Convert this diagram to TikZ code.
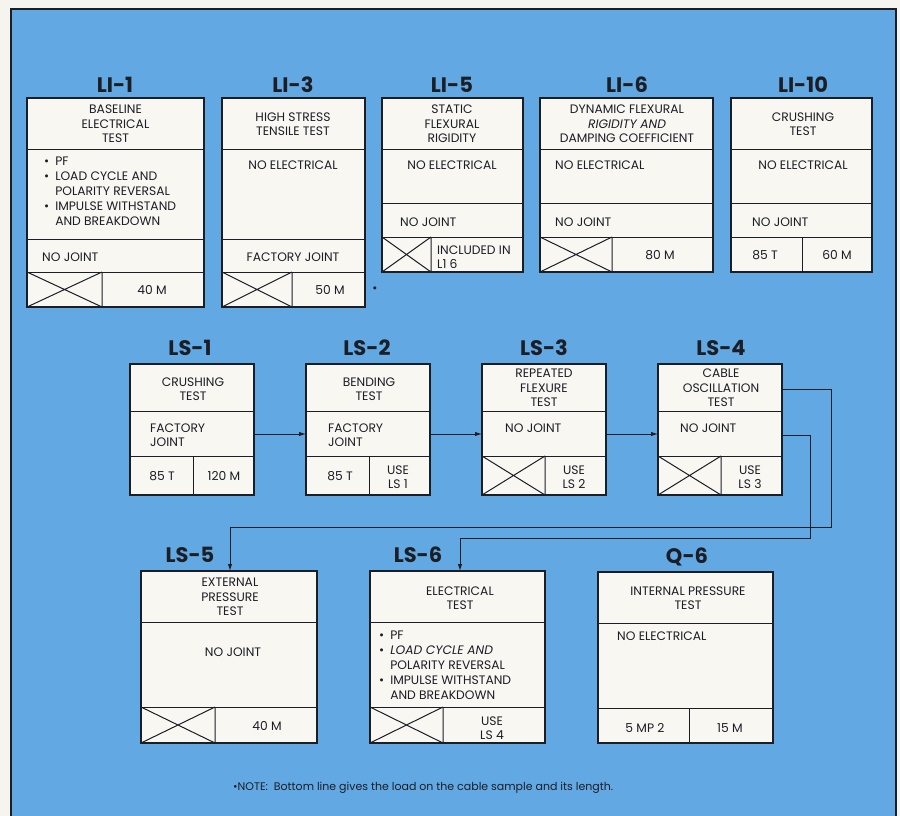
\documentclass[tikz,border=0pt]{standalone}
\usepackage{fontspec}
\setmainfont{Poppins}
\usetikzlibrary{positioning, arrows.meta}

\definecolor{paper}{RGB}{246,244,238}
\definecolor{sea}{RGB}{98,168,226}
\definecolor{ink}{RGB}{28,30,38}
\definecolor{card}{RGB}{248,247,242}

\begin{document}
\begin{tikzpicture}[x=1pt, y=-1pt,
  panel/.style={draw=ink, line width=1.5pt, fill=card, inner sep=0pt, outer sep=0pt, anchor=north west},
  sep/.style={draw=ink, line width=1pt},
  ttl/.style={font=\bfseries\fontsize{21}{21}\selectfont, text=ink, inner sep=0pt},
  lbl/.style={font=\fontsize{12.3}{14.5}\selectfont, text=ink, align=center, inner sep=0pt},
  lft/.style={lbl, align=left, anchor=west},
  blist/.style={font=\fontsize{12.3}{15}\selectfont, text=ink, inner sep=0pt, anchor=north west},
  flow/.style={draw=ink, line width=1pt, -{Latex[length=7pt, width=4.5pt]}}]

\useasboundingbox (0,0) rectangle (900,816);
\fill[paper] (0,0) rectangle (900,816);
\fill[sea] (11,9) rectangle (896,816);
\draw[ink, line width=1.6pt] (11,816) -- (11,9) -- (896,9) -- (896,816);

% top row
\node[ttl] (t-li1) at (115,85) {LI-1};
\node[ttl] (t-li3) at (293,85) {LI-3};
\node[ttl] (t-li5) at (452,85) {LI-5};
\node[ttl] (t-li6) at (627,85) {LI-6};
\node[ttl] (t-li10) at (803,85) {LI-10};

\node[panel, minimum width=177, minimum height=209] (li1) at (27,98) {};
\draw[sep] (27,149) -- (204,149) (27,239) -- (204,239) (27,272) -- (204,272);
\draw[sep] (102,272) -- (102,307) (27,272) -- (102,307) (27,307) -- (102,272);
\node[lbl] (li1-a) at (115.5,124) {BASELINE\\ELECTRICAL\\TEST};
\node[blist] (li1-b) at (44,155) {\begin{tabular}{@{}l@{\hspace{6pt}}l@{}}
  \textbullet & PF\\
  \textbullet & LOAD CYCLE AND\\
   & POLARITY REVERSAL\\
  \textbullet & IMPULSE WITHSTAND\\
   & AND BREAKDOWN
\end{tabular}};
\node[lft] (li1-c) at (42,257) {NO JOINT};
\node[lbl] (li1-d) at (152,290) {40 M};

\node[panel, minimum width=143, minimum height=209] (li3) at (222,98) {};
\draw[sep] (222,149) -- (365,149) (222,239) -- (365,239) (222,272) -- (365,272);
\draw[sep] (292,272) -- (292,307) (222,272) -- (292,307) (222,307) -- (292,272);
\node[lbl] (li3-a) at (293,124) {HIGH STRESS\\TENSILE TEST};
\node[lbl] (li3-b) at (293,165) {NO ELECTRICAL};
\node[lbl] (li3-c) at (293,257) {FACTORY JOINT};
\node[lbl] (li3-d) at (330,290) {50 M};
\node[lbl] (mark) at (375,290) {\textbullet};

\node[panel, minimum width=141, minimum height=174] (li5) at (382,98) {};
\draw[sep] (382,149) -- (523,149) (382,203) -- (523,203) (382,237) -- (523,237);
\draw[sep] (431,237) -- (431,272) (382,237) -- (431,272) (382,272) -- (431,237);
\node[lbl] (li5-a) at (452,124) {STATIC\\FLEXURAL\\RIGIDITY};
\node[lbl] (li5-b) at (452,165) {NO ELECTRICAL};
\node[lft] (li5-c) at (400,222) {NO JOINT};
\node[lft] (li5-d) at (437,257) {INCLUDED IN\\L1 6};

\node[panel, minimum width=173, minimum height=174] (li6) at (540,98) {};
\draw[sep] (540,149) -- (713,149) (540,203) -- (713,203) (540,237) -- (713,237);
\draw[sep] (612,237) -- (612,272) (540,237) -- (612,272) (540,272) -- (612,237);
\node[lbl] (li6-a) at (627,124) {DYNAMIC FLEXURAL\\\itshape RIGIDITY AND\\DAMPING COEFFICIENT};
\node[lft] (li6-b) at (555,165) {NO ELECTRICAL};
\node[lft] (li6-c) at (555,222) {NO JOINT};
\node[lbl] (li6-d) at (660,255) {80 M};

\node[panel, minimum width=141, minimum height=174] (li10) at (731,98) {};
\draw[sep] (731,149) -- (872,149) (731,203) -- (872,203) (731,237) -- (872,237);
\draw[sep] (802,237) -- (802,272);
\node[lbl] (li10-a) at (803,124) {CRUSHING\\TEST};
\node[lbl] (li10-b) at (803,165) {NO ELECTRICAL};
\node[lft] (li10-c) at (752,222) {NO JOINT};
\node[lbl] (li10-d) at (765,255) {85 T};
\node[lbl] (li10-e) at (837,255) {60 M};

% middle row
\node[ttl] (t-ls1) at (190,348) {LS-1};
\node[ttl] (t-ls2) at (367,348) {LS-2};
\node[ttl] (t-ls3) at (544,348) {LS-3};
\node[ttl] (t-ls4) at (721,348) {LS-4};

\node[panel, minimum width=124, minimum height=131] (ls1) at (130,364) {};
\draw[sep] (130,411) -- (254,411) (130,456) -- (254,456) (193,456) -- (193,495);
\node[lbl] (ls1-a) at (193,389) {CRUSHING\\TEST};
\node[lft] (ls1-b) at (150,435) {FACTORY\\JOINT};
\node[lbl] (ls1-c) at (162,476) {85 T};
\node[lbl] (ls1-d) at (224,476) {120 M};

\node[panel, minimum width=124, minimum height=131] (ls2) at (306,364) {};
\draw[sep] (306,411) -- (430,411) (306,456) -- (430,456) (369,456) -- (369,495);
\node[lbl] (ls2-a) at (369,389) {BENDING\\TEST};
\node[lft] (ls2-b) at (328,435) {FACTORY\\JOINT};
\node[lbl] (ls2-c) at (340,476) {85 T};
\node[lbl] (ls2-d) at (398,477) {USE\\LS 1};

\node[panel, minimum width=124, minimum height=131] (ls3) at (482,364) {};
\draw[sep] (482,411) -- (606,411) (482,456) -- (606,456);
\draw[sep] (545,456) -- (545,495) (482,456) -- (545,495) (482,495) -- (545,456);
\node[lbl] (ls3-a) at (544,388) {REPEATED\\FLEXURE\\TEST};
\node[lft] (ls3-b) at (505,428) {NO JOINT};
\node[lbl] (ls3-c) at (574,477) {USE\\LS 2};

\node[panel, minimum width=124, minimum height=131] (ls4) at (658,364) {};
\draw[sep] (658,411) -- (782,411) (658,456) -- (782,456);
\draw[sep] (721,456) -- (721,495) (658,456) -- (721,495) (658,495) -- (721,456);
\node[lbl] (ls4-a) at (721,388) {CABLE\\OSCILLATION\\TEST};
\node[lft] (ls4-b) at (680,428) {NO JOINT};
\node[lbl] (ls4-c) at (750,477) {USE\\LS 3};

\draw[flow] (ls1.east |- 0,434) -- (ls2.west |- 0,434);
\draw[flow] (ls2.east |- 0,434) -- (ls3.west |- 0,434);
\draw[flow] (ls3.east |- 0,434) -- (ls4.west |- 0,434);
\draw[flow] (ls4.east |- 0,389) -| (831,527) -| (230,571);
\draw[flow] (ls4.east |- 0,435) -| (810,538) -| (460,571);

% bottom row
\node[ttl] (t-ls5) at (190,555) {LS-5};
\node[ttl] (t-ls6) at (418,555) {LS-6};
\node[ttl] (t-q6) at (687,557) {Q-6};

\node[panel, minimum width=176, minimum height=172] (ls5) at (141,571) {};
\draw[sep] (141,622) -- (317,622) (141,707) -- (317,707);
\draw[sep] (215,707) -- (215,743) (141,707) -- (215,743) (141,743) -- (215,707);
\node[lbl] (ls5-a) at (230,597) {EXTERNAL\\PRESSURE\\TEST};
\node[lbl] (ls5-b) at (233,652) {NO JOINT};
\node[lbl] (ls5-c) at (267,726) {40 M};

\node[panel, minimum width=175, minimum height=172] (ls6) at (370,571) {};
\draw[sep] (370,622) -- (545,622) (370,707) -- (545,707);
\draw[sep] (443,707) -- (443,743) (370,707) -- (443,743) (370,743) -- (443,707);
\node[lbl] (ls6-a) at (460,598) {ELECTRICAL\\TEST};
\node[blist] (ls6-b) at (379,629) {\begin{tabular}{@{}l@{\hspace{6pt}}l@{}}
  \textbullet & PF\\
  \textbullet & \itshape LOAD CYCLE AND\\
   & POLARITY REVERSAL\\
  \textbullet & IMPULSE WITHSTAND\\
   & AND BREAKDOWN
\end{tabular}};
\node[lbl] (ls6-c) at (492,728) {USE\\LS 4};

\node[panel, minimum width=175, minimum height=171] (q6) at (598,572) {};
\draw[sep] (598,623) -- (773,623) (598,708) -- (773,708) (689,708) -- (689,743);
\node[lbl] (q6-a) at (688,598) {INTERNAL PRESSURE\\TEST};
\node[lft] (q6-b) at (617,636) {NO ELECTRICAL};
\node[lbl] (q6-c) at (645,728) {5 MP 2};
\node[lbl] (q6-d) at (730,728) {15 M};

\node[lft, font=\fontsize{11}{13}\selectfont] (note) at (233,788)
  {\textbullet NOTE:\ \ Bottom line gives the load on the cable sample and its length.};
\end{tikzpicture}
\end{document}
